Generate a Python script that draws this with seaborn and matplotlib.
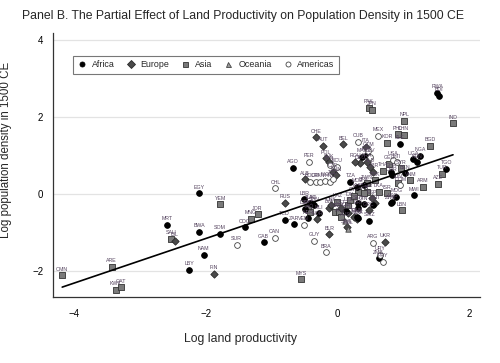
"""
plot.py
Panel B: partial effect of land productivity on population density in 1500 CE.
Scatter of countries by continent with a fitted line.
"""

import pandas as pd
import matplotlib.pyplot as plt
from matplotlib.lines import Line2D
import seaborn as sns

#####################################
## Data
#####################################

asia_codes = ['OMN', 'ARE', 'KWT', 'QAT', 'SAU', 'YEM', 'JOR', 'MNG', 'MYS', 'LAO',
              'IRN', 'IRQ', 'KAZ', 'KGZ', 'PAK', 'JPN', 'NPL', 'IND', 'KOR', 'PHL',
              'CHN', 'BGD', 'GEO', 'SYR', 'TUR', 'AZE', 'ARM', 'LBN', 'THA', 'VNM',
              'IDN', 'KHM', 'MMR', 'LKA', 'ISR', 'UZB', 'TJK', 'TKM', 'AFG', 'BTN',
              'PRK', 'TWN', 'CYP']
asia_x = [-4.18, -3.43, -3.37, -3.29, -2.53, -1.78, -1.21, -1.31, -0.55, -0.38,
          -0.44, -0.42, 0.00, -0.03, 0.48, 0.53, 1.02, 1.76, 0.76, 0.92,
          1.01, 1.41, 0.79, 0.97, 1.59, 1.53, 1.30, 0.98, 0.70, 1.11,
          0.93, 0.32, 0.45, 0.63, 0.76, 0.17, 0.19, 0.02, 0.05, 0.41,
          0.58, 0.45, 0.25]
asia_y = [-2.12, -1.90, -2.50, -2.43, -1.17, -0.27, -0.53, -0.65, -2.22, -0.26,
          -0.37, -0.48, -0.20, -0.46, 2.25, 2.19, 1.91, 1.84, 1.34, 1.55,
          1.54, 1.25, 0.78, 0.67, 0.52, 0.27, 0.19, -0.42, 0.61, 0.36,
          0.29, 0.06, 0.06, 0.06, 0.02, -0.29, -0.16, -0.46, -0.59, 0.02,
          0.36, 0.28, -0.04]

africa_codes = ['MRT', 'EGY', 'BWA', 'SOM', 'NAM', 'LBY', 'COG', 'GAB', 'ZAR', 'TCD',
                'NER', 'MLI', 'LBR', 'SDN', 'CAF', 'SEN', 'GIN', 'CIV', 'ZMB', 'SWZ',
                'MWI', 'TGO', 'RWA', 'BDI', 'SLE', 'UGA', 'KEN', 'NGA', 'GHA', 'BEN',
                'ETH', 'MAR', 'TZA', 'MOZ', 'CMR', 'BFA', 'ZWE', 'LSO', 'MDG', 'ERI',
                'GNB', 'ZAF', 'TUN', 'DZA', 'AGO']
africa_x = [-2.59, -2.10, -2.10, -1.78, -2.03, -2.25, -1.40, -1.12, -0.65, -0.80,
            -0.44, -0.28, -0.50, -0.35, 0.14, 0.32, 0.40, 0.54, 0.63, 0.49,
            1.16, 1.66, 1.52, 1.55, 0.95, 1.15, 1.22, 1.26, 0.82, 1.03,
            0.45, 0.38, 0.20, 0.30, 0.83, 0.40, 0.81, 0.84, 0.90, 0.32,
            0.30, 0.32, -0.41, -0.49, -0.67]
africa_y = [-0.81, 0.02, -0.99, -1.04, -1.58, -1.97, -0.87, -1.26, -0.79, -0.68,
            -0.63, -0.50, -0.14, -0.29, -0.43, -0.24, -0.27, -0.29, -1.67, -0.70,
            -0.03, 0.65, 2.64, 2.55, 1.30, 0.90, 0.82, 0.99, 0.58, 0.54,
            1.02, 0.97, 0.32, 0.19, 0.49, 0.23, -0.24, -0.20, -0.07, -0.37,
            -0.59, -0.63, -0.24, -0.39, 0.68]

europe_codes = ['ISL', 'FIN', 'RUS', 'NOR', 'LVA', 'BLR', 'EST', 'LTU', 'SWE', 'UKR',
                'MDA', 'CHE', 'AUT', 'BEL', 'POL', 'SVK', 'CZE', 'HUN', 'ALB', 'ITA',
                'DEU', 'FRA', 'NLD', 'GBR', 'ESP', 'PRT', 'GRC', 'IRL', 'DNK', 'ROU']
europe_x = [-2.47, -1.88, -0.79, -0.30, -0.12, -0.12, 0.06, 0.17, 0.15, 0.73,
            0.30, -0.32, -0.21, 0.09, -0.17, -0.13, -0.06, -0.02, -0.49, 0.43,
            0.35, 0.45, 0.50, 0.55, 0.53, 0.58, 0.48, 0.26, -0.09, 0.27]
europe_y = [-1.22, -2.07, -0.23, -0.66, -0.36, -1.05, -0.37, -0.50, -0.87, -1.24,
            -0.65, 1.48, 1.26, 1.29, 0.93, 0.82, 0.58, 0.49, 0.38, 1.23,
            0.80, 0.84, 0.71, 0.58, -0.11, -0.24, -0.42, -0.59, -0.29, 0.84]

oceania_codes = ['AUS', 'NZL']
oceania_x = [0.12, 0.17]
oceania_y = [-0.70, -0.90]

americas_codes = ['SUR', 'CAN', 'CHL', 'VEN', 'GUY', 'BRA', 'ARG', 'URY', 'PRY', 'PER',
                  'CUB', 'MEX', 'USA', 'HTI', 'COL', 'ECU', 'BOL', 'CRI', 'PAN', 'NIC',
                  'HND', 'SLV', 'GTM', 'DOM', 'TTO']
americas_x = [-1.53, -0.95, -0.94, -0.51, -0.35, -0.17, 0.54, 0.65, 0.70, -0.43,
              0.32, 0.62, 0.85, 0.91, -0.11, 0.00, -0.41, -0.33, -0.26, -0.18,
              -0.11, 0.50, 0.47, 0.96, -0.06]
americas_y = [-1.33, -1.14, 0.15, -0.81, -1.22, -1.52, -1.27, -1.59, -1.77, 0.84,
              1.36, 1.52, 0.89, 0.82, 0.76, 0.71, 0.31, 0.31, 0.31, 0.34,
              0.31, 0.97, 1.13, 0.23, 0.39]

# fitted line coefficients
fit_slope = 0.58
fit_intercept = 0.0

continents = ['Africa', 'Europe', 'Asia', 'Oceania', 'Americas']
x_ticks = [-4, -2, 0, 2]
y_ticks = [-2, 0, 2, 4]

#####################################
## Build the table
#####################################

frames = []
for name, codes, xs, ys in [
    ('Asia', asia_codes, asia_x, asia_y),
    ('Europe', europe_codes, europe_x, europe_y),
    ('Africa', africa_codes, africa_x, africa_y),
    ('Oceania', oceania_codes, oceania_x, oceania_y),
    ('Americas', americas_codes, americas_x, americas_y),
]:
    frames.append(pd.DataFrame({'code': codes, 'continent': name, 'x': xs, 'y': ys}))
df = pd.concat(frames, ignore_index=True)

# marker styles per continent
styles = {
    'Africa':   {'marker': 'o', 'color': 'black',   'edgecolor': 'black',   's': 17},
    'Europe':   {'marker': 'D', 'color': '#4a4a4a', 'edgecolor': '#2a2a2a', 's': 14},
    'Asia':     {'marker': 's', 'color': '#7a7a7a', 'edgecolor': '#333333', 's': 14},
    'Oceania':  {'marker': '^', 'color': '#9a9a9a', 'edgecolor': '#444444', 's': 15},
    'Americas': {'marker': 'o', 'color': 'white',   'edgecolor': '#444444', 's': 17},
}

#####################################
## Plot
#####################################

sns.set_style('white')
plt.rcParams['font.family'] = ['Liberation Sans', 'DejaVu Sans']

fig = plt.figure(figsize=(5, 3.63), dpi=100)
ax = fig.add_axes([0.106, 0.182, 0.854, 0.727])

ax.set_xlim(-4.32, 2.17)
ax.set_ylim(-2.68, 4.19)

# horizontal grid lines
for yv in y_ticks:
    ax.axhline(yv, color='#e3e3e3', linewidth=0.9, zorder=0)

for name in ['Asia', 'Europe', 'Africa', 'Oceania', 'Americas']:
    st = styles[name]
    sub = df[df['continent'] == name]
    sns.scatterplot(data=sub, x='x', y='y', ax=ax, marker=st['marker'],
                    color=st['color'], edgecolor=st['edgecolor'], s=st['s'],
                    linewidth=0.6, zorder=3, legend=False)

# country labels
for _, row in df.iterrows():
    ax.annotate(row['code'], (row['x'], row['y']), xytext=(0, 2.6),
                textcoords='offset points', ha='center', va='bottom',
                fontsize=3.8, color='#55445f', zorder=4)

# fitted line across the data range
x_min, x_max = df['x'].min(), df['x'].max()
ax.plot([x_min, x_max], [fit_slope * x_min + fit_intercept, fit_slope * x_max + fit_intercept],
        color='black', linewidth=1.2, zorder=5)

# axes styling
ax.set_xticks(x_ticks)
ax.set_xticklabels(['\u22124', '\u22122', '0', '2'])
ax.set_yticks(y_ticks)
ax.set_yticklabels(['\u22122', '0', '2', '4'])
ax.tick_params(axis='both', direction='out', length=4, width=0.8, color='#333333',
               labelsize=7, colors='black')
ax.tick_params(axis='x', pad=5)
ax.tick_params(axis='y', pad=3)
for side in ['top', 'right']:
    ax.spines[side].set_visible(False)
for side in ['left', 'bottom']:
    ax.spines[side].set_color('#333333')
    ax.spines[side].set_linewidth(0.9)

ax.set_xlabel('Log land productivity', fontsize=8.8)
ax.xaxis.set_label_coords(0.44, -0.136)
ax.set_ylabel('Log population density in 1500 CE', fontsize=8.3)
ax.yaxis.set_label_coords(-0.096, 0.557)

fig.text(0.044, 0.972, 'Panel B. The Partial Effect of Land Productivity on Population Density in 1500 CE',
         fontsize=8.8, ha='left', va='top')

# legend
handles = []
for name in continents:
    st = styles[name]
    handles.append(Line2D([0], [0], linestyle='none', marker=st['marker'],
                          markerfacecolor=st['color'], markeredgecolor=st['edgecolor'],
                          markersize=3.6, markeredgewidth=0.6, label=name))
leg = ax.legend(handles=handles, loc='upper left', bbox_to_anchor=(0.047, 0.913),
                borderaxespad=0, ncol=5, fontsize=6.4, frameon=True, fancybox=False,
                edgecolor='#555555', handlelength=1.0, handletextpad=0.6,
                columnspacing=1.3, borderpad=0.5)
leg.get_frame().set_linewidth(0.8)

plt.savefig('out.png', dpi=100)
